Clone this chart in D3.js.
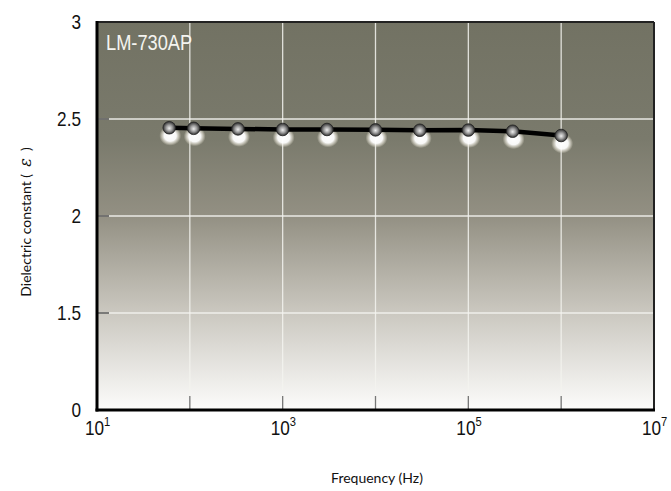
<!DOCTYPE html>
<html><head><meta charset="utf-8">
<script src="https://cdn.jsdelivr.net/npm/d3@7"></script>
<style>body{margin:0;background:#fff}</style>
</head><body>
<svg id="c" width="671" height="491"></svg>
<script>
const freqs = [60, 110, 330, 1000, 3000, 10000, 30000, 100000, 300000, 1000000];
const eps   = [2.455, 2.452, 2.449, 2.446, 2.446, 2.444, 2.442, 2.443, 2.437, 2.415];
const xTickExp = [1, 3, 5, 7];
const xGridDecades = [1e2, 1e3, 1e4, 1e5, 1e6];
const yTicks = [1, 1.5, 2, 2.5, 3];
const yTickLabels = ["0", "1.5", "2", "2.5", "3"];
const seriesName = "LM-730AP";

const svg = d3.select("#c");
const L = 97, R = 654, T = 22, B = 410;
const x = d3.scaleLog().domain([10, 1e7]).range([L, R]);
const y = d3.scaleLinear().domain([1, 3]).range([B, T]);

const defs = svg.append("defs");
const bg = defs.append("linearGradient").attr("id","bg").attr("x1",0).attr("y1",0).attr("x2",0).attr("y2",1);
[[0,"#727263"],[0.3,"#7a7a6c"],[0.5,"#939083"],[0.75,"#cbc8c0"],[1,"#fcfcfb"]].forEach(s=>bg.append("stop").attr("offset",s[0]).attr("stop-color",s[1]));
const ball = defs.append("radialGradient").attr("id","ball").attr("cx",0.5).attr("cy",0.5).attr("r",0.55).attr("fx",0.5).attr("fy",0.55);
[[0,"#eeeeee"],[0.45,"#9a9a9a"],[0.85,"#3c3c3c"],[1,"#1a1a1a"]].forEach(s=>ball.append("stop").attr("offset",s[0]).attr("stop-color",s[1]));
const glow = defs.append("radialGradient").attr("id","glow");
[[0,"#ffffff",1],[0.55,"#ffffff",0.95],[0.8,"#f0ece0",0.5],[1,"#e0dccc",0]].forEach(s=>glow.append("stop").attr("offset",s[0]).attr("stop-color",s[1]).attr("stop-opacity",s[2]));

svg.append("rect").attr("x",L).attr("y",T).attr("width",R-L).attr("height",B-T).attr("fill","url(#bg)");

const g = svg.append("g");
g.selectAll(".vg").data(xGridDecades).join("line")
  .attr("x1",d=>x(d)).attr("x2",d=>x(d)).attr("y1",T).attr("y2",B)
  .attr("stroke","#f4f4f0").attr("stroke-width",1.3).attr("opacity",0.85);
g.selectAll(".hg").data(yTicks.filter(v=>v>1&&v<3)).join("line")
  .attr("x1",L).attr("x2",R).attr("y1",d=>y(d)).attr("y2",d=>y(d))
  .attr("stroke","#f4f4f0").attr("stroke-width",1.3).attr("opacity",0.9);
g.selectAll(".lt").data(yTicks.filter(v=>v>1&&v<3)).join("line")
  .attr("x1",L).attr("x2",L+12).attr("y1",d=>y(d)).attr("y2",d=>y(d))
  .attr("stroke","#333").attr("stroke-width",1.2);
g.selectAll(".bt").data(xGridDecades).join("line")
  .attr("x1",d=>x(d)).attr("x2",d=>x(d)).attr("y1",B).attr("y2",B-14)
  .attr("stroke","#777").attr("stroke-width",1.3);

svg.append("line").attr("x1",L).attr("x2",R).attr("y1",T).attr("y2",T).attr("stroke","#222").attr("stroke-width",2);
svg.append("line").attr("x1",R).attr("x2",R).attr("y1",T).attr("y2",B).attr("stroke","#222").attr("stroke-width",2);
svg.append("line").attr("x1",L).attr("x2",L).attr("y1",T-1).attr("y2",B+1.5).attr("stroke","#000").attr("stroke-width",3);
svg.append("line").attr("x1",L-1.5).attr("x2",R+1).attr("y1",B).attr("y2",B).attr("stroke","#000").attr("stroke-width",3);

const data = freqs.map((f,i)=>({f, v:eps[i]}));
svg.selectAll(".gl").data(data).join("ellipse")
  .attr("cx",d=>x(d.f)+1).attr("cy",d=>y(d.v)+8).attr("rx",11).attr("ry",10)
  .attr("fill","url(#glow)");
svg.append("path").datum(data)
  .attr("d",d3.line().x(d=>x(d.f)).y(d=>y(d.v)))
  .attr("fill","none").attr("stroke","#000").attr("stroke-width",4.5);
svg.selectAll(".b").data(data).join("circle")
  .attr("cx",d=>x(d.f)).attr("cy",d=>y(d.v)).attr("r",6.3)
  .attr("fill","url(#ball)").attr("stroke","#222").attr("stroke-width",0.8);

const font = "'Liberation Sans',Arial,sans-serif";
const SX = 0.86;
svg.selectAll(".yl").data(yTicks).join("text")
  .attr("transform",d=>`translate(81,${y(d)+7}) scale(${SX},1)`)
  .attr("text-anchor","end")
  .attr("font-family",font).attr("font-size",20).attr("fill","#111")
  .text((d,i)=>yTickLabels[i]);
const xl = svg.selectAll(".xl").data(xTickExp).join("text")
  .attr("transform",d=>`translate(${x(Math.pow(10,d))-12},435) scale(${SX},1)`)
  .attr("text-anchor","start")
  .attr("font-family",font).attr("font-size",20).attr("fill","#111");
xl.append("tspan").text("10");
xl.append("tspan").attr("dy",-9).attr("font-size",13).text(d=>d);

svg.append("text").attr("x",377).attr("y",483).attr("text-anchor","middle")
  .attr("font-family","Lato,'Open Sans',sans-serif").attr("font-size",14).attr("fill","#111")
  .text("Frequency (Hz)");
const yt = svg.append("text").attr("transform","translate(31,222) rotate(-90)").attr("text-anchor","middle")
  .attr("font-family","Lato,'Open Sans',sans-serif").attr("font-size",14).attr("fill","#111")
  .attr("xml:space","preserve");
yt.append("tspan").text("Dielectric constant (  ");
yt.append("tspan").attr("font-family","'DejaVu Serif',serif").attr("font-style","italic").attr("font-size",16).text("ε");
yt.append("tspan").text("  )");

svg.append("text").attr("transform",`translate(106,50) scale(0.83,1)`).attr("font-family",font).attr("font-size",22)
  .attr("fill","#f4f4f0").text(seriesName);
</script>
</body></html>
